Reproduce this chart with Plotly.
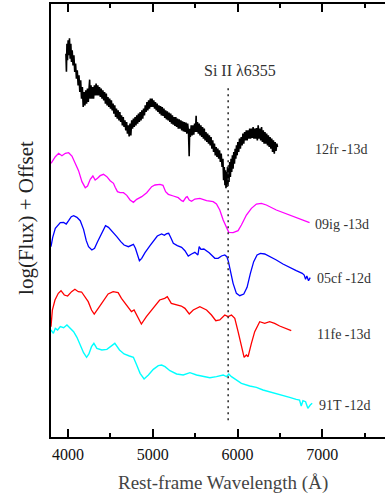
import plotly.graph_objects as go

# ---------------- data (wavelength in Angstrom, log flux + offset, arbitrary units) -------------
fr12_wl = [3976,3982,3988,3995,4002,4010,4018,4026,4034,4042,4050,4060,4070,4080,4090,4100,4110,4120,4130,4140,
           4150,4160,4170,4180,4190,4200,4210,4220,4230,4240,4250,4256,4262,4272,4282,4292,4302,4312,4322,4332,
           4342,4352,4362,4372,4382,4392,4402,4412,4422,4432,4442,4452,4462,4472,4482,4492,4502,4512,4522,4532,
           4542,4552,4562,4572,4582,4592,4602,4612,4622,4632,4642,4652,4662,4672,4682,4692,4702,4712,4722,4732,
           4742,4752,4762,4772,4782,4792,4802,4812,4822,4832,4842,4852,4862,4872,4882,4892,4902,4912,4922,4932,
           4942,4952,4962,4972,4982,4992,5002,5012,5022,5032,5042,5052,5062,5072,5082,5092,5102,5112,5122,5132,
           5142,5152,5162,5172,5182,5192,5202,5212,5222,5232,5242,5252,5262,5272,5282,5292,5302,5312,5322,5332,
           5342,5352,5362,5372,5382,5392,5402,5412,5422,5430,5436,5444,5454,5464,5474,5484,5494,5504,5512,5518,
           5528,5538,5548,5558,5568,5578,5588,5598,5608,5618,5628,5638,5648,5658,5668,5678,5688,5698,5708,5718,
           5728,5738,5748,5758,5768,5778,5788,5798,5808,5818,5828,5836,5844,5852,5858,5864,5870,5876,5882,5888,
           5894,5900,5908,5916,5924,5932,5940,5948,5956,5964,5972,5980,5988,5996,6004,6014,6024,6034,6044,6054,
           6064,6074,6084,6094,6104,6114,6124,6134,6144,6154,6164,6174,6184,6194,6204,6214,6224,6234,6244,6254,
           6264,6274,6284,6294,6304,6314,6324,6334,6344,6354,6364,6374,6384,6394,6404,6414,6424,6434,6444,6454,
           6464,6472]
fr12_fl = [11.5,10.96,11.8,11.3,11.9,11.45,11.96,11.35,11.8,11.25,11.6,11.15,11.45,10.95,11.2,10.75,11.0,10.55,10.85,10.35,
           10.7,10.15,10.5,9.9,10.35,9.95,10.4,10.0,10.45,10.05,10.5,10.72,10.15,10.55,10.15,10.5,10.15,10.55,10.25,10.6,
           10.25,10.55,10.25,10.5,10.2,10.45,10.15,10.4,10.1,10.35,10.0,10.3,9.95,10.2,9.9,10.15,9.85,10.1,9.8,10.0,
           9.7,9.95,9.6,9.85,9.55,9.8,9.5,9.75,9.45,9.65,9.35,9.6,9.3,9.5,9.2,9.45,9.1,9.35,9.02,9.4,
           9.05,9.5,9.25,9.55,9.3,9.6,9.35,9.65,9.4,9.7,9.45,9.75,9.5,9.8,9.55,9.85,9.65,9.95,9.75,10.05,
           9.8,10.1,9.85,10.15,9.9,10.15,9.9,10.1,9.85,10.05,9.8,10.0,9.75,9.95,9.7,9.93,9.65,9.9,9.63,9.85,
           9.57,9.8,9.53,9.77,9.5,9.73,9.45,9.7,9.4,9.65,9.37,9.6,9.33,9.6,9.3,9.55,9.25,9.53,9.25,9.5,
           9.2,9.47,9.17,9.45,9.15,9.43,9.1,9.4,9.15,8.42,9.25,9.0,9.35,9.05,9.35,9.07,9.4,9.15,9.64,9.15,
           9.45,9.1,9.4,9.05,9.35,9.0,9.3,8.95,9.25,8.9,9.15,8.85,9.1,8.8,9.05,8.75,9.0,8.65,8.9,8.55,
           8.8,8.45,8.7,8.4,8.65,8.35,8.6,8.25,8.5,8.1,8.35,7.7,8.1,7.55,8.0,7.46,7.95,7.5,8.1,7.55,
           8.15,7.65,8.25,7.8,8.35,7.95,8.45,8.05,8.55,8.2,8.65,8.35,8.75,8.45,8.85,8.55,8.95,8.65,9.0,8.75,
           9.1,8.8,9.15,8.9,9.2,8.9,9.2,8.95,9.25,8.95,9.25,8.97,9.3,8.95,9.25,8.95,9.27,8.9,9.35,8.95,
           9.25,8.9,9.3,8.85,9.2,8.8,9.15,8.8,9.1,8.75,9.05,8.7,9.0,8.65,8.95,8.55,8.9,8.5,8.85,8.58,
           8.8,8.7]

ig09_wl = [3800,3851,3890,3929,3969,4008,4047,4086,4125,4165,4204,4231,4263,4294,4321,4349,4380,4419,4459,4498,
           4537,4557,4584,4615,4655,4694,4733,4772,4811,4870,4929,4988,5027,5086,5121,5152,5184,5243,5301,5341,
           5360,5392,5407,5431,5458,5497,5556,5635,5713,5752,5791,5831,5870,5897,5948,6007,6046,6105,6164,6223,
           6282,6340,6458,6615,6732,6850]
ig09_fl = [8.21,8.41,8.51,8.44,8.51,8.53,8.43,8.23,7.99,7.66,7.48,7.53,7.73,7.83,7.71,7.76,7.84,7.88,7.81,7.69,
           7.61,7.49,7.36,7.33,7.33,7.25,7.11,7.04,7.13,7.21,7.33,7.51,7.56,7.58,7.55,7.36,7.28,7.23,7.18,7.09,
           7.07,7.19,7.21,7.11,7.07,7.14,7.16,7.09,7.06,6.99,6.81,6.51,6.26,6.14,6.13,6.19,6.36,6.66,6.86,6.99,
           7.01,6.96,6.81,6.66,6.53,6.43]

cf05_wl = [3800,3820,3851,3910,3949,3980,4008,4039,4067,4106,4145,4184,4216,4243,4282,4314,4349,4380,4412,4443,
           4478,4517,4576,4623,4662,4713,4753,4772,4796,4819,4843,4870,4909,4968,5015,5054,5105,5137,5164,5188,
           5211,5243,5290,5341,5380,5419,5458,5497,5533,5548,5568,5603,5666,5733,5772,5811,5850,5874,5893,5917,
           5948,5987,6027,6074,6113,6152,6191,6231,6270,6321,6387,6458,6536,6615,6693,6764,6787,6803,6818,6838,
           6858]
cf05_fl = [5.71,5.99,6.26,6.43,6.44,6.39,6.49,6.61,6.64,6.59,6.49,6.23,5.89,5.71,5.61,5.66,5.86,6.01,6.21,6.34,
           6.29,6.19,6.01,5.86,5.76,5.71,5.76,5.78,5.66,5.46,5.29,5.36,5.53,5.74,5.91,6.03,6.09,6.05,6.10,6.11,
           5.99,5.81,5.74,5.69,5.59,5.43,5.49,5.54,5.46,5.71,5.63,5.64,5.53,5.36,5.36,5.43,5.46,5.41,5.26,4.96,
           4.61,4.31,4.24,4.29,4.49,4.91,5.26,5.46,5.51,5.49,5.41,5.31,5.19,5.08,4.99,4.91,4.86,4.73,4.83,4.69,
           4.78]

fe11_wl = [3800,3816,3847,3886,3918,3957,3996,4043,4082,4122,4161,4200,4239,4278,4310,4357,4416,4474,4533,4592,
           4631,4670,4710,4749,4780,4819,4866,4925,4984,5043,5082,5141,5172,5219,5278,5337,5380,5431,5478,5556,
           5635,5693,5744,5791,5850,5889,5929,5968,6007,6046,6078,6105,6125,6164,6203,6262,6321,6379,6438,6497,
           6556,6634]
fe11_fl = [3.31,3.81,4.11,4.31,4.39,4.26,4.23,4.36,4.43,4.36,4.35,4.21,4.06,3.81,3.69,3.86,4.06,4.29,4.36,4.33,
           4.16,4.03,3.86,3.76,3.81,3.61,3.39,3.61,3.81,4.01,4.11,4.16,4.21,4.01,3.96,3.93,3.86,3.69,3.81,3.91,
           3.81,3.66,3.49,3.51,3.66,3.61,3.66,3.56,3.16,2.71,2.39,2.46,2.41,2.81,3.16,3.46,3.41,3.46,3.41,3.33,
           3.26,3.19]

t91_wl = [3800,3828,3851,3878,3910,3949,3988,4027,4067,4106,4145,4184,4220,4247,4278,4306,4341,4400,4459,4513,
          4553,4608,4662,4725,4772,4811,4851,4898,4949,5007,5066,5105,5145,5203,5282,5360,5439,5517,5595,5674,
          5752,5831,5870,5897,5929,5987,6046,6144,6223,6301,6379,6458,6536,6615,6693,6732,6752,6772,6803,6830,
          6858,6881]
t91_fl = [3.21,3.11,3.26,3.21,3.31,3.28,3.36,3.26,3.16,2.99,2.76,2.53,2.39,2.49,2.71,2.81,2.66,2.61,2.63,2.73,
          2.81,2.61,2.49,2.43,2.39,2.16,1.91,1.74,1.86,2.03,2.14,2.16,2.11,1.99,1.89,1.86,1.93,1.86,1.81,1.78,
          1.81,1.86,1.81,1.89,1.81,1.71,1.61,1.53,1.49,1.41,1.36,1.29,1.24,1.19,1.13,1.11,0.93,1.09,1.06,0.86,
          0.96,1.01]

names = ["12fr -13d", "09ig -13d", "05cf -12d", "11fe -13d", "91T -12d"]
label_wl = [6886, 6886, 6910, 6910, 6933]
label_fl = [8.64, 6.39, 4.75, 3.09, 0.94]
colors = ["#000000", "#FF00FF", "#0000FF", "#FF0000", "#00FFFF"]

si_wl = [5890, 5890]
si_fl = [0.5, 10.55]
si_label = "Si II λ6355"
si_label_pos = (6027, 10.99)

tick_vals = [4000, 5000, 6000, 7000]
tick_text = ["4000", "5000", "6000", "7000"]

# ---------------- figure -------------
fig = go.Figure()
series = [(fr12_wl, fr12_fl), (ig09_wl, ig09_fl), (cf05_wl, cf05_fl), (fe11_wl, fe11_fl), (t91_wl, t91_fl)]
widths = [1.6, 1.3, 1.3, 1.3, 1.4]
for (wl, fl), c, n, w in zip(series, colors, names, widths):
    fig.add_trace(go.Scatter(x=wl, y=fl, mode="lines", line=dict(color=c, width=w), name=n,
                             showlegend=False, hoverinfo="skip"))

fig.add_trace(go.Scatter(x=si_wl, y=si_fl, mode="lines",
                         line=dict(color="#333333", width=1.6, dash="2px,4px"), showlegend=False, hoverinfo="skip"))

for n, lx, ly in zip(names, label_wl, label_fl):
    fig.add_annotation(x=lx, y=ly, text=n, showarrow=False, xanchor="left", yanchor="middle",
                       font=dict(family="Liberation Serif", size=14, color="#333333"))

fig.add_annotation(x=si_label_pos[0], y=si_label_pos[1], text=si_label, showarrow=False,
                   xanchor="center", yanchor="middle",
                   font=dict(family="Liberation Serif", size=16, color="#333333"))

fig.add_annotation(x=5830, y=0, xref="x", yref="paper", yshift=-46, text="Rest-frame Wavelength (Å)",
                   showarrow=False, xanchor="center", yanchor="middle",
                   font=dict(family="Liberation Serif", size=19, color="#444444"))
fig.add_annotation(x=0, y=0.506, xref="paper", yref="paper", xshift=-25, text="log(Flux) + Offset",
                   showarrow=False, textangle=-90, xanchor="center", yanchor="middle",
                   font=dict(family="Liberation Serif", size=21, color="#222222"))

fig.update_layout(
    width=385, height=494,
    margin=dict(l=51, r=0, t=4, b=57),
    paper_bgcolor="white", plot_bgcolor="white",
    xaxis=dict(range=[3800, 7740], showgrid=False, zeroline=False,
               showline=True, linecolor="black", linewidth=2, mirror="ticks",
               ticks="inside", ticklen=8, tickwidth=1.5, tickcolor="black",
               tickvals=tick_vals, ticktext=tick_text, ticklabelstandoff=2,
               tickfont=dict(family="Liberation Serif", size=16, color="#111111"),
               minor=dict(ticks="inside", ticklen=4, tickwidth=1.5, tickcolor="black", dtick=500,
                          tick0=3500, showgrid=False)),
    yaxis=dict(range=[0, 12.99], showgrid=False, zeroline=False, showticklabels=False,
               showline=True, linecolor="black", linewidth=2, ticks=""),
)

fig.write_html("out.html")
